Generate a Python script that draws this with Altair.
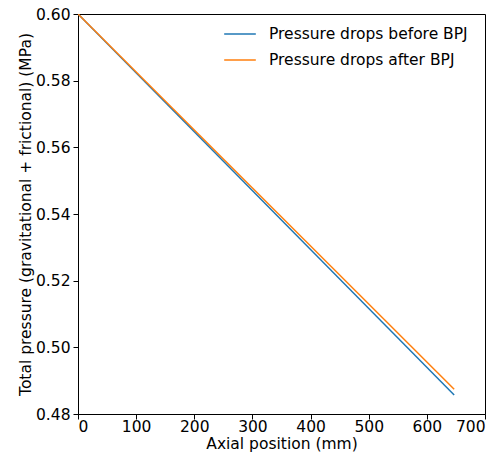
import altair as alt
import pandas as pd

series_names = ["Pressure drops before BPJ", "Pressure drops after BPJ"]
x_before = [0, 647]
y_before = [0.600, 0.4857]
x_after = [0, 647]
y_after = [0.600, 0.4874]

rows = []
for i, (xs, ys) in enumerate([(x_before, y_before), (x_after, y_after)]):
    for x, y in zip(xs, ys):
        rows.append({"x": x, "y": y, "series": series_names[i], "order": i})
df = pd.DataFrame(rows)

font = "DejaVu Sans"
fs = 15.5
chart = alt.Chart(df).mark_line(strokeWidth=1.5, clip=True).encode(
    x=alt.X("x:Q", title="Axial position (mm)",
            scale=alt.Scale(domain=[0, 700], nice=False, zero=False),
            axis=alt.Axis(values=[0, 100, 200, 300, 400, 500, 600, 700], grid=False)),
    y=alt.Y("y:Q", title="Total pressure (gravitational + frictional) (MPa)",
            scale=alt.Scale(domain=[0.48, 0.60], nice=False, zero=False),
            axis=alt.Axis(values=[0.48, 0.50, 0.52, 0.54, 0.56, 0.58, 0.60], format=".2f", grid=False,
                          labelPadding=3)),
    color=alt.Color("series:N", sort=series_names,
                    scale=alt.Scale(domain=series_names, range=["#1f77b4", "#ff7f0e"]),
                    legend=alt.Legend(title=None, orient="none", legendX=145, legendY=3,
                                      symbolType="stroke", symbolSize=1000, symbolStrokeWidth=1.5,
                                      labelFontSize=fs, labelFont=font, labelColor="black",
                                      labelLimit=0, rowPadding=-8, labelOffset=12)),
    order="order:Q",
    detail="series:N",
).properties(
    width=407, height=400,
    autosize=alt.AutoSizeParams(type="none"),
    padding={"left": 70, "top": 6, "right": 8, "bottom": 41},
).configure(background="white").configure_view(
    stroke="black", strokeWidth=1
).configure_axis(
    domainColor="black", tickColor="black", labelColor="black", titleColor="black",
    labelFont=font, titleFont=font, labelFontSize=fs, titleFontSize=fs,
    titleFontWeight="normal", tickSize=5, titlePadding=2,
).configure_axisX(labelPadding=0)

chart.save("out.html", embed_options={"renderer": "svg", "actions": False})
